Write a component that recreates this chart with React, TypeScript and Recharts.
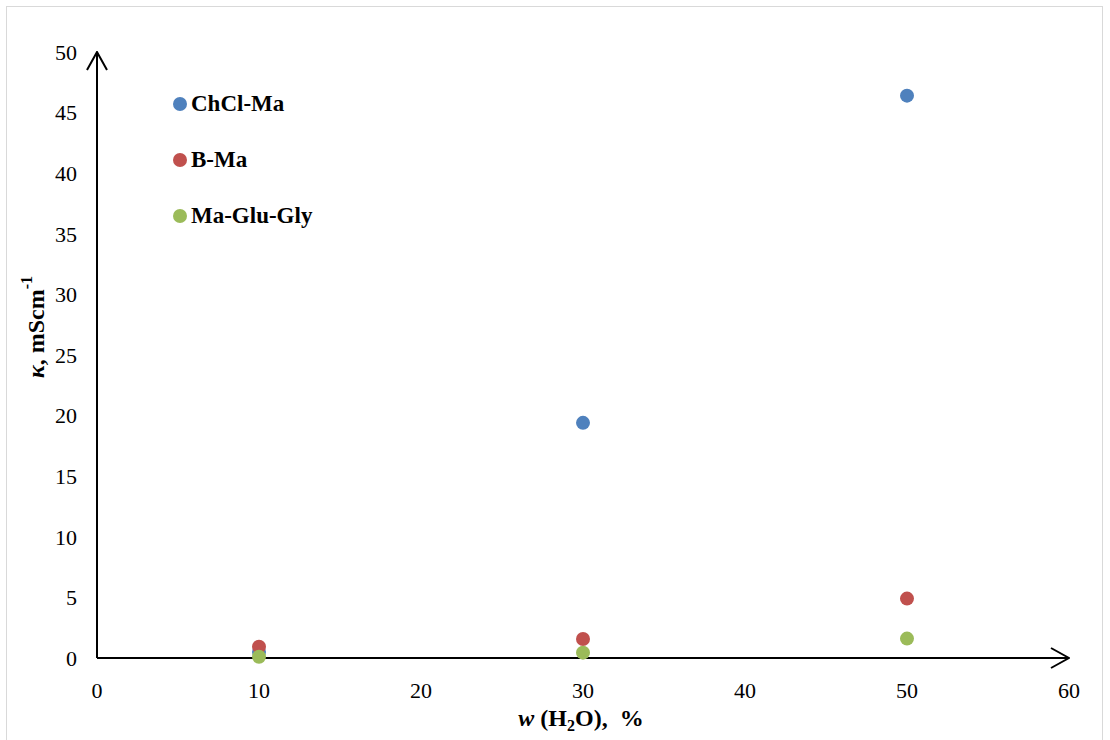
import { ScatterChart, Scatter, XAxis, YAxis } from "recharts";

const waterContent = [10, 30, 50];
const chclMa = [0.5, 19.4, 46.4];
const bMa = [0.93, 1.57, 4.9];
const maGluGly = [0.1, 0.44, 1.6];

const xTicks = [0, 10, 20, 30, 40, 50, 60];
const yTicks = [0, 5, 10, 15, 20, 25, 30, 35, 40, 45, 50];

const SERIES = [
  { name: "ChCl-Ma", values: chclMa, color: "#4F81BD" },
  { name: "B-Ma", values: bMa, color: "#C0504D" },
  { name: "Ma-Glu-Gly", values: maGluGly, color: "#9BBB59" },
];

const FONT = "'Liberation Serif', 'Times New Roman', serif";

const toPoints = (values: number[]) =>
  waterContent.map((w, i) => ({ x: w, y: values[i] }));

const Dot = (props: any) => {
  const { cx, cy, fill } = props;
  if (cx == null || cy == null) return null;
  return <circle cx={cx} cy={cy} r={7} fill={fill} />;
};

// legend sits inside the plot, top-left, like the Excel original
const LegendBox = () => (
  <div
    style={{
      position: "absolute",
      left: 172,
      top: 76,
      fontFamily: FONT,
      fontWeight: "bold",
      fontSize: 23,
      color: "#000",
    }}
  >
    {SERIES.map((s) => (
      <div key={s.name} style={{ display: "flex", alignItems: "center", height: 56 }}>
        <svg width={16} height={16} style={{ marginRight: 3 }}>
          <circle cx={8} cy={8} r={7} fill={s.color} />
        </svg>
        <span>{s.name}</span>
      </div>
    ))}
  </div>
);

const YTitle = (props: any) => {
  const vb = props.viewBox || {};
  const cx = 38;
  const cy = vb.y + vb.height / 2 - 28;
  return (
    <text
      transform={`translate(${cx},${cy}) rotate(-90)`}
      textAnchor="middle"
      fontFamily={FONT}
      fontWeight="bold"
      fontSize={24}
      fill="#000"
      dominantBaseline="middle"
    >
      <tspan fontStyle="italic">κ</tspan>
      <tspan>, mScm</tspan>
      <tspan fontSize={16} dy={-10}>-1</tspan>
    </text>
  );
};

const XTitle = (props: any) => {
  const vb = props.viewBox || {};
  const cx = vb.x + vb.width / 2 - 2;
  return (
    <text
      x={cx}
      y={726}
      textAnchor="middle"
      fontFamily={FONT}
      fontWeight="bold"
      fontSize={24}
      fill="#000"
      style={{ whiteSpace: "pre" }}
    >
      <tspan fontStyle="italic">w</tspan>
      <tspan> (H</tspan>
      <tspan fontSize={16} dy={5}>2</tspan>
      <tspan dy={-5}>O),  %</tspan>
    </text>
  );
};

export default function App() {
  return (
    <div style={{ position: "absolute", left: 0, top: 0, width: 1110, height: 740 }}>
      <svg width={0} height={0} style={{ position: "absolute" }}>
        <defs>
          <marker
            id="arrowOpen"
            viewBox="0 0 20 22"
            refX={19}
            refY={11}
            markerWidth={20}
            markerHeight={22}
            markerUnits="userSpaceOnUse"
            orient="auto-start-reverse"
          >
            <path d="M1,1 L19,11 L1,21" fill="none" stroke="#000" strokeWidth={2} />
          </marker>
        </defs>
      </svg>
      <div
        style={{
          position: "absolute",
          left: 6,
          top: 6,
          width: 1097,
          height: 740,
          border: "1px solid #d9d9d9",
          boxSizing: "border-box",
        }}
      />
      <div style={{ position: "absolute", left: 0, top: 0 }}>
        <ScatterChart
          width={1110}
          height={740}
          margin={{ top: 52, right: 41, left: 0, bottom: 0 }}
        >
          <XAxis
            type="number"
            dataKey="x"
            domain={[0, 60]}
            ticks={xTicks}
            height={82}
            tickLine={false}
            tickSize={0}
            tickMargin={24}
            axisLine={{ stroke: "#000", strokeWidth: 2, markerEnd: "url(#arrowOpen)" }}
            tick={{ fill: "#000", fontFamily: FONT, fontSize: 22 }}
            label={<XTitle />}
          />
          <YAxis
            type="number"
            dataKey="y"
            domain={[0, 50]}
            ticks={yTicks}
            width={97}
            tickLine={false}
            tickSize={0}
            tickMargin={20}
            axisLine={{ stroke: "#000", strokeWidth: 2, markerStart: "url(#arrowOpen)" }}
            tick={{ fill: "#000", fontFamily: FONT, fontSize: 22 }}
            label={<YTitle />}
          />
          {SERIES.map((s) => (
            <Scatter
              key={s.name}
              name={s.name}
              data={toPoints(s.values)}
              fill={s.color}
              shape={<Dot />}
              isAnimationActive={false}
            />
          ))}
        </ScatterChart>
      </div>
      <LegendBox />
    </div>
  );
}
